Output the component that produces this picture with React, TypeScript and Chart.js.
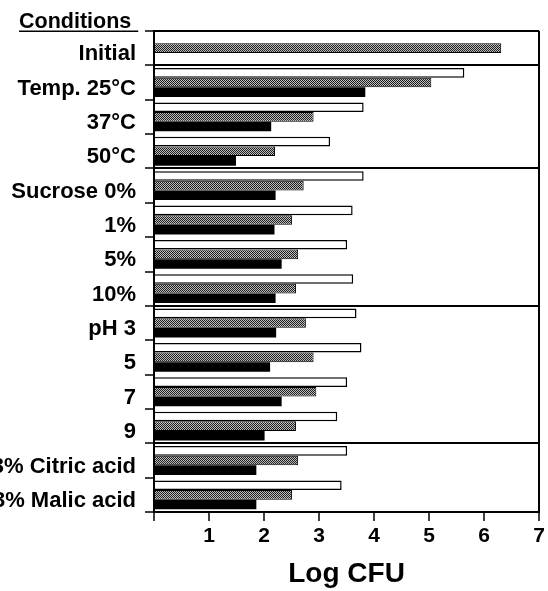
import React, { useEffect, useRef } from 'react';
import { Chart, registerables } from 'chart.js';

Chart.register(...registerables);

// ---- Data ----
const categories = [
  'Initial',
  'Temp. 25°C',
  '37°C',
  '50°C',
  'Sucrose 0%',
  '1%',
  '5%',
  '10%',
  'pH 3',
  '5',
  '7',
  '9',
  '3% Citric acid',
  '3% Malic acid',
];

const whiteValues = [null, 5.64, 3.81, 3.2, 3.81, 3.61, 3.51, 3.62, 3.68, 3.77, 3.51, 3.33, 3.51, 3.41];
const grayValues = [6.31, 5.04, 2.9, 2.2, 2.72, 2.51, 2.62, 2.58, 2.76, 2.9, 2.95, 2.58, 2.62, 2.51];
const blackValues = [null, 3.84, 2.13, 1.49, 2.21, 2.19, 2.32, 2.21, 2.22, 2.11, 2.32, 2.01, 1.86, 1.86];

const xMin = 0;
const xMax = 7;
const xStep = 1;

// boundaries (index of the line above a category) drawn as separators across the plot
const separatorIndices = [0, 1, 4, 8, 12];

const headerText = 'Conditions';
const xTitle = 'Log CFU';

const FONT = '"Liberation Sans", Arial, Helvetica, sans-serif';

function makeStipple(): CanvasPattern | string {
  const c = document.createElement('canvas');
  c.width = 2;
  c.height = 2;
  const g = c.getContext('2d');
  if (!g) return '#808080';
  g.fillStyle = '#bdbdbd';
  g.fillRect(0, 0, 2, 2);
  g.fillStyle = '#1e1e1e';
  g.fillRect(0, 0, 1, 1);
  g.fillRect(1, 1, 1, 1);
  const p = g.createPattern(c, 'repeat');
  return p || '#808080';
}

const headerPlugin = {
  id: 'conditionsHeader',
  afterDraw(chart: any) {
    const ctx = chart.ctx as CanvasRenderingContext2D;
    ctx.save();
    ctx.font = `bold 21.5px ${FONT}`;
    ctx.fillStyle = '#000';
    ctx.textAlign = 'left';
    ctx.textBaseline = 'alphabetic';
    ctx.fillText(headerText, 19, 28);
    const w = ctx.measureText(headerText).width;
    ctx.fillRect(19, 30.5, w + 7, 1.5);
    ctx.restore();
  },
};

export default function App() {
  const canvasRef = useRef<HTMLCanvasElement | null>(null);

  useEffect(() => {
    const canvas = canvasRef.current;
    if (!canvas) return;
    const stipple = makeStipple();

    const chart = new Chart(canvas, {
      type: 'bar',
      data: {
        labels: categories,
        datasets: [
          {
            label: 'White',
            data: whiteValues as any,
            backgroundColor: '#ffffff',
            borderColor: '#000000',
            borderWidth: 1.5,
          },
          {
            label: 'Stippled',
            data: grayValues as any,
            backgroundColor: stipple as any,
            borderColor: '#000000',
            borderWidth: 1,
          },
          {
            label: 'Black',
            data: blackValues as any,
            backgroundColor: '#000000',
            borderColor: '#000000',
            borderWidth: 0,
          },
        ],
      },
      options: {
        indexAxis: 'y',
        responsive: false,
        animation: false,
        events: [],
        layout: { padding: { top: 31, right: 6, left: 0, bottom: 0 } },
        datasets: {
          bar: {
            categoryPercentage: 0.84,
            barPercentage: 1,
          },
        },
        plugins: {
          legend: { display: false },
          tooltip: { enabled: false },
          title: { display: false },
        },
        scales: {
          x: {
            type: 'linear',
            min: xMin,
            max: xMax,
            ticks: {
              stepSize: xStep,
              callback: (v: any) => (Number(v) === 0 ? '' : String(v)),
              font: { family: FONT, weight: 'bold', size: 21 },
              color: '#000',
              padding: 3,
              maxRotation: 0,
              autoSkip: false,
            },
            grid: {
              drawOnChartArea: true,
              drawTicks: true,
              tickLength: 9,
              tickColor: '#000',
              tickWidth: 1.5,
              lineWidth: 2,
              color: (ctx: any) => (ctx.tick && ctx.tick.value === xMax ? '#000' : 'rgba(0,0,0,0)'),
            },
            border: { display: true, color: '#000', width: 2 },
            title: {
              display: true,
              text: xTitle,
              color: '#000',
              font: { family: FONT, weight: 'bold', size: 28 },
              padding: { top: 0, bottom: 0 },
            },
            afterFit: (s: any) => {
              s.height = 79;
            },
          },
          y: {
            type: 'category',
            offset: true,
            grid: {
              offset: true,
              drawOnChartArea: true,
              drawTicks: true,
              tickLength: 9,
              tickColor: '#000',
              tickWidth: 1.5,
              lineWidth: 2,
              color: (ctx: any) =>
                ctx.index !== undefined && separatorIndices.includes(ctx.index) ? '#000' : 'rgba(0,0,0,0)',
            },
            border: { display: true, color: '#000', width: 2 },
            ticks: {
              font: { family: FONT, weight: 'bold', size: 22 },
              color: '#000',
              padding: 9,
              labelOffset: 6,
              autoSkip: false,
            },
            afterFit: (s: any) => {
              s.width = 154;
            },
          },
        },
      } as any,
      plugins: [headerPlugin],
    });

    return () => {
      chart.destroy();
    };
  }, []);

  return (
    <div style={{ position: 'absolute', left: 0, top: 0, width: 548, height: 591, background: '#fff' }}>
      <canvas ref={canvasRef} width={548} height={591} />
    </div>
  );
}
